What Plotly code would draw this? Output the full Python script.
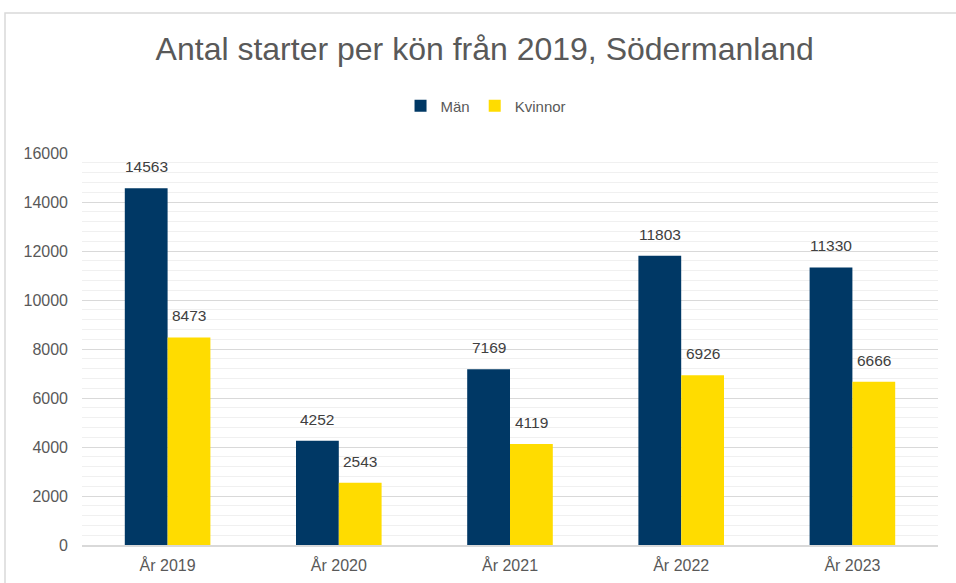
import plotly.graph_objects as go

categories = ["År 2019", "År 2020", "År 2021", "År 2022", "År 2023"]
man = [14563, 4252, 7169, 11803, 11330]
kvinnor = [8473, 2543, 4119, 6926, 6666]

font_family = "Liberation Sans, Arial, sans-serif"
pos = list(range(len(categories)))

fig = go.Figure()
fig.add_trace(go.Bar(x=pos, y=man, name="Män", marker_color="#003865",
                     marker_line_width=0))
fig.add_trace(go.Bar(x=pos, y=kvinnor, name="Kvinnor", marker_color="#FFDC00",
                     marker_line_width=0))

# data labels, placed over each bar through the axis scales
half_bar = 0.125
for i, v in enumerate(man):
    fig.add_annotation(x=i - half_bar, y=v, text=str(v), showarrow=False,
                       xref="x", yref="y", yanchor="bottom", yshift=11,
                       font=dict(size=15.5, color="#404040", family=font_family))
for i, v in enumerate(kvinnor):
    fig.add_annotation(x=i + half_bar, y=v, text=str(v), showarrow=False,
                       xref="x", yref="y", yanchor="bottom", yshift=11,
                       font=dict(size=15.5, color="#404040", family=font_family))

fig.update_layout(
    width=956, height=583,
    paper_bgcolor="white", plot_bgcolor="white",
    margin=dict(l=82, r=18, t=153, b=38, autoexpand=False),
    barmode="group", bargap=0.5, bargroupgap=0,
    font=dict(family=font_family, color="#595959", size=16),
    title=dict(text="Antal starter per kön från 2019, Södermanland",
               x=0.507, xref="container", xanchor="center",
               y=1 - 49 / 583, yref="container", yanchor="middle",
               font=dict(size=32, color="#595959", family=font_family)),
    legend=dict(orientation="h", x=0.472, xanchor="center",
                y=(545 - 106) / 392, yanchor="middle",
                font=dict(size=15, color="#595959"),
                itemwidth=30, traceorder="normal",
                bgcolor="rgba(0,0,0,0)"),
    showlegend=True,
)
fig.update_yaxes(range=[0, 16000], dtick=2000, tick0=0, tickformat="d",
                 showgrid=True, gridcolor="#d9d9d9", gridwidth=1,
                 minor=dict(dtick=400, showgrid=True, gridcolor="#f0f0f0", gridwidth=1),
                 zeroline=False, showline=False, ticks="",
                 ticklabelstandoff=13,
                 tickfont=dict(size=16, color="#595959"))
fig.update_xaxes(range=[-0.5, len(categories) - 0.5],
                 tickmode="array", tickvals=pos, ticktext=categories,
                 showgrid=False, zeroline=False,
                 showline=True, linecolor="#d9d9d9", linewidth=1.5,
                 ticks="", ticklabelstandoff=5,
                 tickfont=dict(size=16, color="#595959"))

fig.add_shape(type="rect", xref="paper", yref="paper",
              x0=(5 - 82) / 856, x1=(990 - 82) / 856,
              y0=(545 - 600) / 392, y1=(545 - 13) / 392,
              line=dict(color="#d9d9d9", width=1.5), fillcolor="rgba(0,0,0,0)",
              layer="below")

fig.write_html("out.html", config={"displayModeBar": False},
               post_script="document.body.style.margin='0';")
